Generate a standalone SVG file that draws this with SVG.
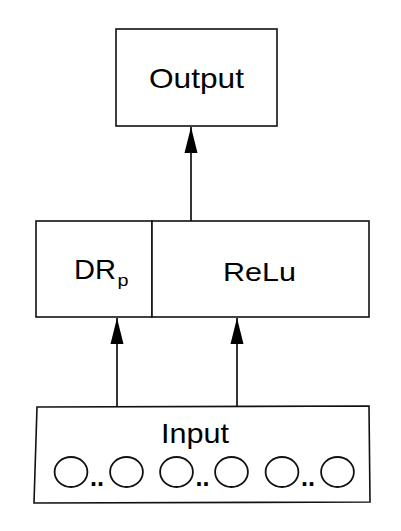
<svg xmlns="http://www.w3.org/2000/svg" width="401" height="531" viewBox="0 0 401 531">
<style>
.box{fill:#fff;stroke:#111;stroke-width:1.6}
.t{font-family:"Liberation Sans",Arial,sans-serif;fill:#000}
.c{fill:none;stroke:#111;stroke-width:1.8}
.d{font-family:"Liberation Sans",Arial,sans-serif;font-weight:bold;fill:#000;font-size:25px}
.edge{stroke:#000;stroke-width:1.6;fill:none}
</style>
<defs>
<marker id="ah" markerUnits="userSpaceOnUse" markerWidth="26" markerHeight="14" refX="26" refY="7" orient="auto" viewBox="0 0 26 14">
<path d="M26,7 L0,0.5 L0,13.5 Z" fill="#000"/>
</marker>
</defs>
<rect width="401" height="531" fill="#fff"/>
<g id="output">
<rect class="box" x="116" y="29" width="161" height="97"/>
<text class="t" x="149" y="88" font-size="28.5" textLength="95" lengthAdjust="spacingAndGlyphs">Output</text>
</g>
<g id="drp">
<rect class="box" x="36" y="221" width="116" height="96"/>
<text class="t" x="74" y="279" font-size="28" textLength="42" lengthAdjust="spacingAndGlyphs">DR</text>
<text class="t" x="117.5" y="286" font-size="17" textLength="11" lengthAdjust="spacingAndGlyphs">p</text>
</g>
<g id="relu">
<rect class="box" x="152" y="221" width="217" height="96"/>
<text class="t" x="223" y="281" font-size="25" textLength="73" lengthAdjust="spacingAndGlyphs">ReLu</text>
</g>
<g id="input">
<polygon class="box" points="37,407 369,406 370,502 34,503"/>
<text class="t" x="161" y="443" font-size="28" textLength="68" lengthAdjust="spacingAndGlyphs">Input</text>
<ellipse class="c" cx="71" cy="472" rx="16.4" ry="15"/>
<ellipse class="c" cx="126.5" cy="472" rx="16.4" ry="15"/>
<ellipse class="c" cx="176.5" cy="472" rx="16.4" ry="15"/>
<ellipse class="c" cx="231.5" cy="472" rx="16.4" ry="15"/>
<ellipse class="c" cx="282" cy="472" rx="16.4" ry="15"/>
<ellipse class="c" cx="337.5" cy="472" rx="16.4" ry="15"/>
<text class="d" x="90" y="486" textLength="14" lengthAdjust="spacingAndGlyphs">..</text>
<text class="d" x="195.5" y="486" textLength="14" lengthAdjust="spacingAndGlyphs">..</text>
<text class="d" x="301" y="486" textLength="14" lengthAdjust="spacingAndGlyphs">..</text>
</g>
<g id="connectors">
<line class="edge" x1="191" y1="221" x2="191" y2="127" marker-end="url(#ah)"/>
<line class="edge" x1="117" y1="406" x2="117" y2="318" marker-end="url(#ah)"/>
<line class="edge" x1="237" y1="406" x2="237" y2="318" marker-end="url(#ah)"/>
</g>
</svg>
